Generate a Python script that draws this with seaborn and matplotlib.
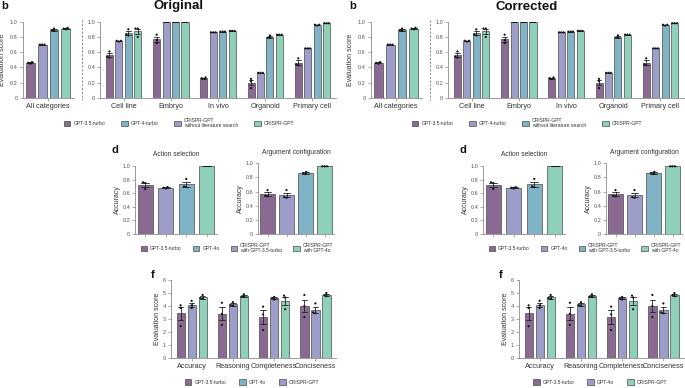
import numpy as np
import pandas as pd
import matplotlib
matplotlib.use("Agg")
import matplotlib.pyplot as plt
import seaborn as sns
from matplotlib.patches import Patch
from matplotlib.lines import Line2D

sns.set_theme(style="ticks")
plt.rcParams["font.family"] = ["Liberation Sans", "DejaVu Sans"]

# ---------------- data ----------------
b_cat_left = ["All categories"]
b_cat_right = ["Cell line", "Embryo", "In vivo", "Organoid", "Primary cell"]
b_models = ["GPT-3.5-turbo", "GPT-4-turbo",
            "CRISPR-GPT\nwithout literature search", "CRISPR-GPT"]
# replicate values per category (All, Cell line, Embryo, In vivo, Organoid, Primary cell)
b_gpt35 = [[0.47, 0.45, 0.46], [0.61, 0.54, 0.53], [0.83, 0.76, 0.72],
           [0.27, 0.26, 0.25], [0.25, 0.22, 0.13], [0.52, 0.44, 0.43]]
b_gpt4turbo = [[0.70, 0.70, 0.70], [0.75, 0.75, 0.74], [1.0, 1.0, 1.0],
               [0.86, 0.86, 0.86], [0.33, 0.33, 0.33], [0.65, 0.65, 0.65]]
b_crispr_nolit = [[0.91, 0.89, 0.88], [0.90, 0.83, 0.82], [1.0, 1.0, 1.0],
                  [0.87, 0.87, 0.87], [0.82, 0.79, 0.79], [0.96, 0.96, 0.95]]
b_crispr = [[0.92, 0.91, 0.90], [0.91, 0.91, 0.80], [1.0, 1.0, 1.0],
            [0.88, 0.88, 0.88], [0.83, 0.83, 0.83], [0.98, 0.98, 0.98]]

d_models = ["GPT-3.5-turbo", "GPT-4o",
            "CRISPR-GPT\nwith GPT-3.5-turbo", "CRISPR-GPT\nwith GPT-4o"]
d_action = [[0.76, 0.75, 0.66], [0.69, 0.68, 0.67], [0.81, 0.70, 0.69], [1.0, 1.0, 1.0]]
d_argument = [[0.62, 0.54, 0.53], [0.62, 0.52, 0.51], [0.88, 0.86, 0.85], [0.96, 0.96, 0.96]]

f_cats = ["Accuracy", "Reasoning", "Completeness", "Conciseness"]
f_models = ["GPT-3.5-turbo", "GPT-4o", "CRISPR-GPT"]
f_gpt35 = [[4.05, 3.85, 2.45], [4.25, 3.40, 2.55], [3.95, 3.35, 2.15], [4.85, 4.00, 3.15]]
f_gpt4o = [[4.40, 4.05, 3.85], [4.30, 4.05, 4.00], [4.70, 4.60, 4.50], [4.20, 3.50, 3.45]]
f_crispr = [[4.85, 4.60, 4.55], [4.90, 4.70, 4.70], [4.80, 4.65, 3.75], [5.00, 4.85, 4.75]]

# ---------------- style ----------------
W, H = 685, 388
PURPLE = "#8a6a92"
LAV = "#9c9ec9"
TEAL = "#7fb3c5"
GREEN = "#8fd0b8"
EDGE = "#4a4a4a"
TXT = "#333333"
GREY = "#777777"

b_bar_colors = [PURPLE, LAV, TEAL, GREEN]
b_leg_orig = [PURPLE, TEAL, LAV, GREEN]
b_leg_corr = [PURPLE, LAV, TEAL, GREEN]
d_bar_colors = [PURPLE, LAV, TEAL, GREEN]
d_leg_orig = [PURPLE, TEAL, LAV, GREEN]
d_leg_corr = [PURPLE, LAV, TEAL, GREEN]
f_bar_colors = [PURPLE, LAV, GREEN]
f_leg_orig = [PURPLE, TEAL, LAV]
f_leg_corr = [PURPLE, LAV, GREEN]


def long_df(cats, models, series):
    rows = []
    for m, reps in zip(models, series):
        for c, vals in zip(cats, reps):
            for v in vals:
                rows.append({"cat": c, "model": m, "value": v})
    return pd.DataFrame(rows)


b_all_cats = b_cat_left + b_cat_right
df_b = long_df(b_all_cats, b_models, [b_gpt35, b_gpt4turbo, b_crispr_nolit, b_crispr])
df_b_left = df_b[df_b["cat"].isin(b_cat_left)]
df_b_right = df_b[df_b["cat"].isin(b_cat_right)]
df_d_action = pd.DataFrame([{"model": m, "value": v} for m, vals in zip(d_models, d_action) for v in vals])
df_d_arg = pd.DataFrame([{"model": m, "value": v} for m, vals in zip(d_models, d_argument) for v in vals])
df_f = long_df(f_cats, f_models, [f_gpt35, f_gpt4o, f_crispr])

fig = plt.figure(figsize=(W / 100, H / 100), dpi=100)


def add_ax(x0, ytop, x1, ybot):
    return fig.add_axes([x0 / W, 1 - ybot / H, (x1 - x0) / W, (ybot - ytop) / H])


def style_ax(ax, yticks, ylabels, ylabel=None, xlabsize=5.2, lpad=2):
    sns.despine(ax=ax)
    for s in ["left", "bottom"]:
        ax.spines[s].set_color("#8a8a8a")
        ax.spines[s].set_linewidth(0.6)
    ax.set_yticks(yticks)
    ax.set_yticklabels(ylabels)
    ax.tick_params(axis="both", length=2, width=0.5, color="#8a8a8a", pad=1.5)
    ax.tick_params(axis="y", labelsize=4, labelcolor="#555555")
    ax.tick_params(axis="x", labelsize=xlabsize, labelcolor=TXT)
    ax.set_xlabel("")
    if ylabel:
        ax.set_ylabel(ylabel, fontsize=5, color=TXT, labelpad=lpad)
    else:
        ax.set_ylabel("")


def bars(ax, df, x, hue, order, hue_order, colors, width, gap):
    pal = dict(zip(hue_order, colors))
    sns.barplot(data=df, x=x, y="value", hue=hue, order=order, hue_order=hue_order,
                palette=pal, errorbar="se", capsize=0.4,
                err_kws={"linewidth": 0.6, "color": "#222222"},
                edgecolor=EDGE, linewidth=0.5, width=width, gap=gap,
                saturation=1, legend=False, ax=ax)
    sns.swarmplot(data=df, x=x, y="value", hue=hue, order=order, hue_order=hue_order,
                  palette={m: "#151515" for m in hue_order}, dodge=(hue != x),
                  size=1.6, legend=False, ax=ax)


def legend(handles_colors, labels, cx, cy, ncol, colsp):
    handles = [Patch(facecolor=c, edgecolor=EDGE, linewidth=0.5) for c in handles_colors]
    fig.legend(handles, labels, loc="center", bbox_to_anchor=(cx / W, 1 - cy / H),
               ncol=ncol, frameon=False, fontsize=3.6, handlelength=1.3, handleheight=1.3,
               handletextpad=0.6, columnspacing=colsp, borderaxespad=0, borderpad=0,
               labelcolor=TXT)


def half(off, title, corrected):
    fig.text((179 + off) / W, 1 - 6.5 / H, title, ha="center", va="center",
             fontsize=9.5, fontweight="black", color="#111111")
    # ---- panel b ----
    fig.text((1 + off) / W, 1 - 6 / H, "b", ha="left", va="center", fontsize=8,
             fontweight="bold", color="#111111")
    ax1 = add_ax(22.7 + off, 21.7, 73.5 + off, 98)
    bars(ax1, df_b_left, "cat", "model", b_cat_left, b_models, b_bar_colors, 0.8, 0.25)
    ax1.set_xlim(-0.43, 0.43)
    ax1.set_ylim(0, 1)
    style_ax(ax1, [0, 0.2, 0.4, 0.6, 0.8, 1.0], ["0", "0.2", "0.4", "0.6", "0.8", "1.0"],
             "Evaluation score", lpad=2.5)
    ax2 = add_ax(100 + off, 21.7, 336 + off, 98)
    bars(ax2, df_b_right, "cat", "model", b_cat_right, b_models, b_bar_colors, 0.8, 0.25)
    ax2.set_xlim(-0.5, 4.5)
    ax2.set_ylim(0, 1)
    style_ax(ax2, [0, 0.2, 0.4, 0.6, 0.8, 1.0], ["0", "0.2", "0.4", "0.6", "0.8", "1.0"])
    fig.add_artist(Line2D([(81.7 + off) / W] * 2, [1 - 20 / H, 1 - 100 / H],
                          transform=fig.transFigure, color=GREY, lw=0.6,
                          linestyle=(0, (2.5, 2))))
    legend(b_leg_corr if corrected else b_leg_orig, b_models, 179 + off, 123, 4, 3.2)

    # ---- panel d ----
    fig.text((111 + off) / W, 1 - 150 / H, "d", ha="left", va="center", fontsize=8,
             fontweight="bold", color="#111111")
    for (x0, x1, yt, yb, dfx, ttl) in [(135, 217, 166, 234, df_d_action, "Action selection"),
                                      (258, 334, 163.5, 233.5, df_d_arg, "Argument configuration")]:
        ax = add_ax(x0 + off, yt, x1 + off, yb)
        bars(ax, dfx, "model", "model", d_models, d_models, d_bar_colors, 0.75, 0)
        ax.set_xlim(-0.5, 3.5)
        ax.set_ylim(0, 1)
        style_ax(ax, [0, 0.2, 0.4, 0.6, 0.8, 1.0], ["0", "0.2", "0.4", "0.6", "0.8", "1.0"],
                 "Accuracy", lpad=1)
        ax.set_xticklabels([])
        ax.set_title(ttl, fontsize=4.8, color=TXT, pad=7)
    legend(d_leg_corr if corrected else d_leg_orig, d_models, 237 + off, 248, 4, 2.2)

    # ---- panel f ----
    fig.text((151 + off) / W, 1 - 275 / H, "f", ha="left", va="center", fontsize=8,
             fontweight="bold", color="#111111")
    axf = add_ax(171 + off, 280, 336 + off, 358)
    bars(axf, df_f, "cat", "model", f_cats, f_models, f_bar_colors, 0.8, 0.25)
    axf.set_xlim(-0.5, 3.5)
    axf.set_ylim(0, 6)
    style_ax(axf, [0, 1, 2, 3, 4, 5, 6], ["0", "1", "2", "3", "4", "5", "6"],
             "Evaluation score", lpad=1.5)
    legend(f_leg_corr if corrected else f_leg_orig, f_models, 252 + off, 382, 3, 2.6)


half(0, "Original", False)
half(348, "Corrected", True)

fig.savefig("out.png", dpi=100, facecolor="white")
